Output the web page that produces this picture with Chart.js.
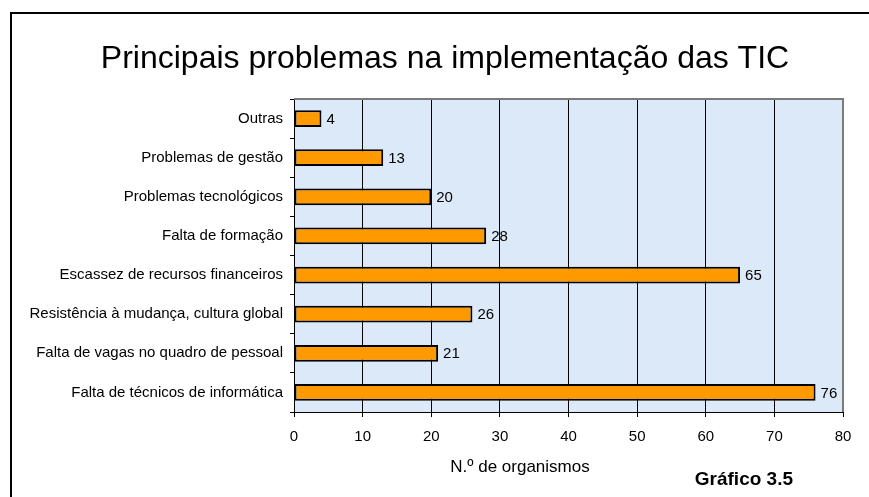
<!DOCTYPE html>
<html>
<head>
<meta charset="utf-8">
<script src="https://cdn.jsdelivr.net/npm/chart.js@4"></script>
<style>
  html, body { margin: 0; padding: 0; background: #ffffff; }
  #wrap { position: relative; width: 869px; height: 497px; }
</style>
</head>
<body>
<div id="wrap"><canvas id="chart"></canvas></div>
<script>
const categories = [
  "Outras",
  "Problemas de gestão",
  "Problemas tecnológicos",
  "Falta de formação",
  "Escassez de recursos financeiros",
  "Resistência à mudança, cultura global",
  "Falta de vagas no quadro de pessoal",
  "Falta de técnicos de informática"
];
const organismos = [4, 13, 20, 28, 65, 26, 21, 76];
const xMin = 0;
const xMax = 80;
const xStep = 10;

const chartTitle = "Principais problemas na implementação das TIC";
const fontFamily = "'Liberation Sans', Arial, sans-serif";

// frame, title, plot background, value labels and footer texts
const decorations = {
  id: "decorations",
  beforeDraw(chart) {
    const { ctx, chartArea } = chart;
    ctx.save();
    ctx.fillStyle = "#ffffff";
    ctx.fillRect(0, 0, chart.width, chart.height);
    ctx.fillStyle = "#dce9f8";
    ctx.fillRect(chartArea.left, chartArea.top, chartArea.right - chartArea.left, chartArea.bottom - chartArea.top);
    ctx.restore();
  },
  afterDatasetsDraw(chart) {
    const { ctx } = chart;
    const meta = chart.getDatasetMeta(0);
    ctx.save();
    ctx.font = "15px " + fontFamily;
    ctx.fillStyle = "#000";
    ctx.textAlign = "left";
    ctx.textBaseline = "middle";
    meta.data.forEach((bar, i) => {
      ctx.fillText(String(organismos[i]), bar.x + 5, bar.y + 1);
    });
    ctx.restore();
  },
  afterDraw(chart) {
    const { ctx, chartArea } = chart;
    ctx.save();
    // gray border on top and right of plot
    ctx.strokeStyle = "#7a7a7a";
    ctx.lineWidth = 2;
    ctx.beginPath();
    ctx.moveTo(chartArea.left, chartArea.top);
    ctx.lineTo(chartArea.right, chartArea.top);
    ctx.lineTo(chartArea.right, chartArea.bottom);
    ctx.stroke();
    // outer frame
    ctx.strokeStyle = "#000";
    ctx.lineWidth = 2;
    ctx.beginPath();
    ctx.moveTo(11, chart.height);
    ctx.lineTo(11, 13);
    ctx.lineTo(chart.width, 13);
    ctx.stroke();
    // title, axis title and figure number
    ctx.fillStyle = "#000";
    ctx.textBaseline = "middle";
    ctx.textAlign = "center";
    ctx.font = "32px " + fontFamily;
    ctx.fillText(chartTitle, 445, 59);
    ctx.font = "17px " + fontFamily;
    ctx.fillText("N.º de organismos", 520, 467);
    ctx.textAlign = "right";
    ctx.font = "bold 19px " + fontFamily;
    ctx.fillText("Gráfico 3.5", 793, 480);
    ctx.restore();
  }
};

new Chart(document.getElementById("chart"), {
  type: "bar",
  data: {
    labels: categories,
    datasets: [{
      label: "N.º de organismos",
      data: organismos,
      backgroundColor: "#ff9900",
      borderColor: "#000000",
      borderWidth: 2,
      borderSkipped: false,
      barPercentage: 0.43,
      categoryPercentage: 1
    }]
  },
  options: {
    indexAxis: "y",
    responsive: true,
    maintainAspectRatio: false,
    animation: false,
    layout: { padding: { left: 10, right: 26, top: 99, bottom: 0 } },
    scales: {
      x: {
        min: xMin,
        max: xMax,
        ticks: { stepSize: xStep, color: "#000", padding: 11, font: { size: 15, family: fontFamily } },
        grid: { color: "#000", lineWidth: 1, tickLength: 5, tickColor: "#000" },
        border: { color: "#000", width: 1 },
        afterFit(scale) { scale.height = 85; }
      },
      y: {
        ticks: { color: "#000", padding: 7, font: { size: 15, family: fontFamily } },
        grid: { drawOnChartArea: false, tickLength: 4, color: "#000" },
        border: { color: "#000", width: 1 },
        afterFit(scale) { scale.width = 284; }
      }
    },
    plugins: {
      legend: { display: false },
      tooltip: { enabled: false },
      title: { display: false }
    }
  },
  plugins: [decorations]
});
</script>
</body>
</html>
